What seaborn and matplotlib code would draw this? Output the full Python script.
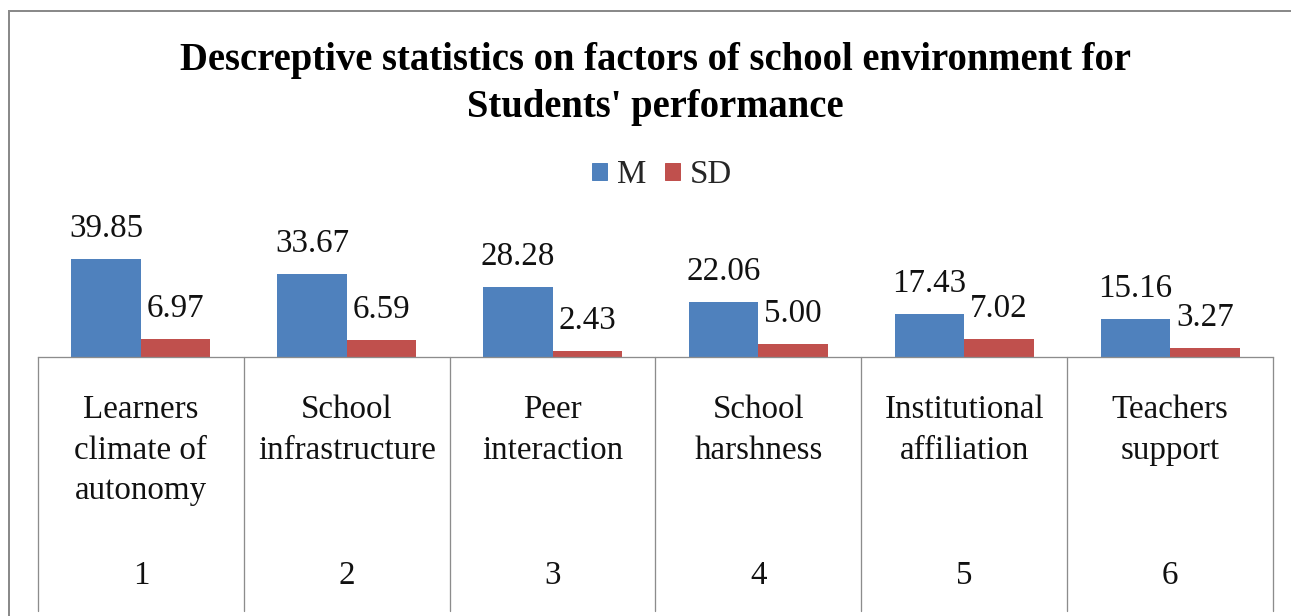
import matplotlib
matplotlib.use("Agg")
import matplotlib.pyplot as plt
from matplotlib.patches import Rectangle
import seaborn as sns
import pandas as pd

# ---- data ----
category_names = ["Learners\nclimate of\nautonomy", "School\ninfrastructure", "Peer\ninteraction",
                  "School\nharshness", "Institutional\naffiliation", "Teachers\nsupport"]
category_ids = ["1", "2", "3", "4", "5", "6"]
m_values = [39.85, 33.67, 28.28, 22.06, 17.43, 15.16]
sd_values = [6.97, 6.59, 2.43, 5.00, 7.02, 3.27]
series_names = ["M", "SD"]
title_text = "Descreptive statistics on factors of school environment for\nStudents' performance"

df = pd.DataFrame({
    "cat": category_ids * 2,
    "value": m_values + sd_values,
    "series": [series_names[0]] * len(m_values) + [series_names[1]] * len(sd_values),
})

sns.set_style("white")
plt.rcParams["font.family"] = ["Liberation Serif", "DejaVu Serif"]

W, H = 1291, 616
DPI = 72
fig = plt.figure(figsize=(W / DPI, H / DPI), dpi=DPI)
fig.patch.set_facecolor("white")

base_y = 356.5
ax_h_px = 120
ax = fig.add_axes([38 / W, (H - base_y) / H, (1273 - 38) / W, ax_h_px / H])
px_per_unit = 2.45

colors = ["#4F81BD", "#C0504D"]
sns.barplot(data=df, x="cat", y="value", hue="series", order=category_ids,
            palette=colors, width=0.675, ax=ax, legend=False, saturation=1,
            linewidth=0, errorbar=None)

ax.set_ylim(0, ax_h_px / px_per_unit)
ax.set_xlim(-0.5, len(category_ids) - 0.5)
ax.set_xlabel("")
ax.set_ylabel("")
ax.set_xticks([])
ax.set_yticks([])
for s in ["top", "left", "right"]:
    ax.spines[s].set_visible(False)
gray = "#8c8c8c"
ax.spines["bottom"].set_color(gray)
ax.spines["bottom"].set_linewidth(1.3)
ax.patch.set_alpha(0)

fs = 33
for cont in ax.containers:
    ax.bar_label(cont, fmt="%.2f", padding=15, fontsize=fs, color="#111111")

# table below the axis
xt = ax.get_xaxis_transform()
table_bottom = -(611 - base_y) / ax_h_px
for b in range(len(category_ids) + 1):
    ax.plot([b - 0.5, b - 0.5], [0, table_bottom], transform=xt, color=gray,
            lw=1.3, clip_on=False)
for i, (nm, cid) in enumerate(zip(category_names, category_ids)):
    ax.annotate(nm, xy=(i, 0), xycoords=xt, xytext=(0, -(395 - base_y)),
                textcoords="offset points", ha="center", va="top", fontsize=fs,
                linespacing=1.42, color="#111111")
    ax.annotate(cid, xy=(i, 0), xycoords=xt, xytext=(0, -(576 - base_y)),
                textcoords="offset points", ha="center", va="center", fontsize=fs,
                color="#111111")

# title
fig.text(655.5 / W, (H - 84) / H, title_text, ha="center", va="center",
         fontsize=38.6, fontweight="bold", linespacing=1.33, color="black")

# legend
handles = [Rectangle((0, 0), 1, 1, color=c) for c in colors]
fig.legend(handles, series_names, loc="center", bbox_to_anchor=(662 / W, (H - 175) / H),
           ncol=2, frameon=False, fontsize=fs, handlelength=0.45, handleheight=0.45,
           handletextpad=0.3, columnspacing=0.58, borderpad=0)

# outer chart border
fig.add_artist(Rectangle((8.5 / W, -0.2), 1.5, 1.2 + (H - 10.5) / H - 1.0,
                         transform=fig.transFigure, fill=False, edgecolor="#8a8a8a",
                         lw=2, clip_on=False))

fig.savefig("out.png", dpi=DPI)
